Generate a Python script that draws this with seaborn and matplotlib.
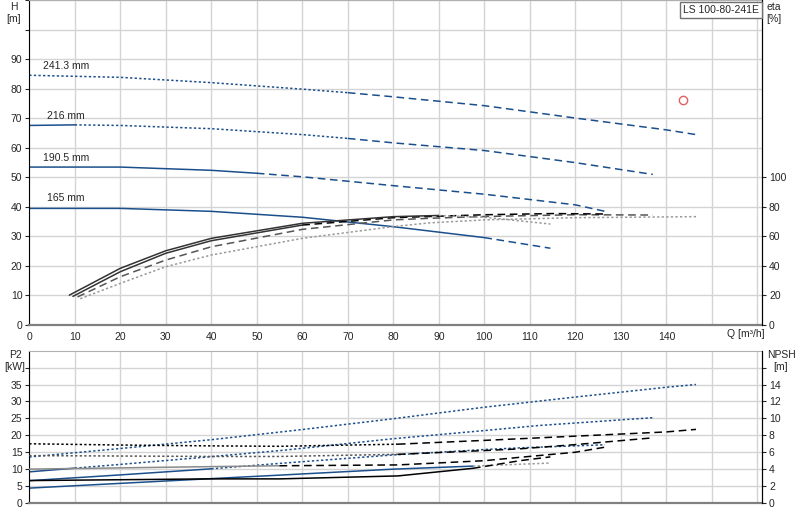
import matplotlib
matplotlib.use("Agg")
import matplotlib.pyplot as plt
import seaborn as sns

# H curves per impeller diameter
diameters = ["241.3 mm", "216 mm", "190.5 mm", "165 mm"]

q_h241 = [0, 20, 40, 60, 70, 80, 100, 120, 140, 146.5]
h_241 = [84.5, 83.8, 82.0, 79.8, 78.6, 77.2, 74.2, 70.0, 66.0, 64.4]
q_h216 = [0, 10, 20, 40, 60, 70, 80, 100, 120, 137]
h_216 = [67.5, 67.7, 67.5, 66.4, 64.4, 63.1, 61.6, 59.0, 54.9, 50.9]
q_h190 = [0, 20, 40, 50, 60, 80, 100, 120, 126.5]
h_190 = [53.4, 53.4, 52.3, 51.3, 50.1, 47.1, 44.2, 40.6, 38.4]
q_h165 = [0, 20, 40, 60, 80, 100, 114.5]
h_165 = [39.4, 39.4, 38.4, 36.4, 33.2, 29.5, 25.9]

# efficiency [%]
q_e241 = [11.2, 20, 30, 40, 60, 80, 88, 100, 120, 146.5]
eta_241 = [17.6, 28.0, 39.3, 47.2, 58.5, 66.5, 69.0, 71.0, 72.5, 73.2]
q_e216 = [10.6, 20, 30, 40, 60, 80, 88, 100, 120, 137]
eta_216 = [18.8, 32.5, 43.8, 52.8, 64.6, 71.0, 72.1, 73.3, 74.5, 74.3]
q_e190 = [9.6, 20, 30, 40, 60, 80, 100, 115, 126.5]
eta_190 = [19.2, 35.9, 48.4, 56.9, 67.5, 72.5, 74.5, 75.3, 75.0]
q_e165 = [8.8, 20, 30, 40, 60, 80, 90, 100, 114.5]
eta_165 = [20.0, 38.2, 50.1, 58.5, 68.7, 73.2, 74.0, 72.8, 68.2]

# P2 [kW]
q_p241 = [0, 20, 40, 60, 80, 100, 120, 140, 146.5]
p2_241 = [13.6, 16.1, 18.7, 21.7, 24.9, 28.3, 31.3, 34.2, 35.0]
q_p216 = [0, 10, 20, 40, 56, 80, 100, 112, 137]
p2_216 = [9.2, 10.3, 11.4, 13.7, 15.6, 19.0, 21.4, 22.9, 25.2]
q_p190 = [0, 20, 40, 55, 80, 100, 108, 126.5]
p2_190 = [6.6, 8.3, 10.1, 11.7, 14.2, 15.8, 16.3, 17.2]
q_p165 = [0, 20, 40, 56, 80, 97.5, 114.5]
p2_165 = [4.4, 5.8, 7.2, 8.3, 10.0, 10.9, 11.8]

# NPSH [m]
q_n241 = [0, 20, 40, 55, 81, 100, 120, 140, 146.5]
npsh_241 = [7.0, 6.85, 6.75, 6.7, 6.95, 7.4, 7.9, 8.4, 8.7]
q_n216 = [0, 20, 40, 55, 81, 100, 107.8, 120, 137]
npsh_216 = [5.6, 5.55, 5.5, 5.5, 5.75, 6.2, 6.4, 6.9, 7.7]
q_n190 = [0, 20, 40, 55, 81, 100, 107.8, 120, 126.5]
npsh_190 = [4.0, 4.15, 4.3, 4.4, 4.5, 5.0, 5.4, 6.0, 6.6]
q_n165 = [0, 20, 40, 55, 81, 97.5, 107.8, 114.5]
npsh_165 = [2.65, 2.75, 2.85, 2.85, 3.2, 4.1, 5.0, 5.45]

duty_q = [143.7]
duty_h = [76.1]

BLUE = "#1b4f8c"
GRAY = "#9a9a9a"
SOLID = "-"
DASH = (0, (5, 3))
DOT = (0, (1.5, 1.5))
FS = 7.5

sns.set_style("white")
plt.rcParams["font.family"] = ["Liberation Sans", "DejaVu Sans"]
plt.rcParams["font.size"] = FS


def draw(ax, q, v, parts):
    # parts: (start index, end index, color, linestyle)
    for i0, i1, col, ls in parts:
        sns.lineplot(x=q[i0:i1 + 1], y=v[i0:i1 + 1], ax=ax, color=col,
                     linestyle=ls, lw=1.1, estimator=None, sort=False)


def style_axes(ax):
    ax.grid(True, color="#d4d4d4", lw=1)
    ax.set_axisbelow(True)
    ax.spines["top"].set_color("#b0b0b0")
    ax.spines["bottom"].set_color("#808080")
    ax.spines["bottom"].set_linewidth(1.6)
    ax.spines["left"].set_color("black")
    ax.spines["right"].set_color("black")
    ax.tick_params(direction="out", length=3, width=0.8, pad=2, labelsize=FS)


def right_axis(ax):
    ax.tick_params(direction="out", length=3, width=0.8, pad=2, labelsize=FS)
    for s in ax.spines.values():
        s.set_visible(False)
    ax.spines["right"].set_visible(True)
    ax.spines["right"].set_color("black")


fig = plt.figure(figsize=(8, 5.2), dpi=100)
ax1 = fig.add_axes([0.0366, 0.3756, 0.9159, 0.6244])
ax2 = fig.add_axes([0.0366, 0.0327, 0.9159, 0.2929])

xt = list(range(0, 170, 10))
for ax in (ax1, ax2):
    ax.set_xlim(0, 161)
    ax.set_xticks(xt)
    style_axes(ax)
ax1.set_xticklabels([str(v) if v <= 140 else "" for v in xt])
ax2.set_xticklabels([])

# top: H
ax1.set_ylim(0, 110)
yt = list(range(0, 120, 10))
ax1.set_yticks(yt)
ax1.set_yticklabels([str(v) if v <= 90 else "" for v in yt])

draw(ax1, q_h241, h_241, [(0, 4, BLUE, DOT), (4, 9, BLUE, DASH)])
draw(ax1, q_h216, h_216, [(0, 1, BLUE, SOLID), (1, 5, BLUE, DOT), (5, 9, BLUE, DASH)])
draw(ax1, q_h190, h_190, [(0, 3, BLUE, SOLID), (3, 8, BLUE, DASH)])
draw(ax1, q_h165, h_165, [(0, 5, BLUE, SOLID), (5, 6, BLUE, DASH)])

label_q = [3.0, 3.9, 3.0, 3.9]
label_h = [87.5, 70.8, 56.6, 43.0]
for name, lq, lh in zip(diameters, label_q, label_h):
    ax1.text(lq, lh, name, fontsize=FS, va="center", ha="left")

ax1.plot(duty_q, duty_h, marker="o", mfc="none", mec="#e06060", ms=6, ls="none")

ax1e = ax1.twinx()
ax1e.set_ylim(0, 220)
ax1e.set_yticks(list(range(0, 120, 20)))
right_axis(ax1e)
draw(ax1e, q_e241, eta_241, [(0, 9, GRAY, DOT)])
draw(ax1e, q_e216, eta_216, [(0, 9, "#555555", DASH)])
draw(ax1e, q_e190, eta_190, [(0, 4, "#333333", SOLID), (4, 8, "black", DASH)])
draw(ax1e, q_e165, eta_165, [(0, 6, "#333333", SOLID), (6, 8, GRAY, DOT)])
ax1e.set_xlim(0, 161)

# bottom: P2 / NPSH
ax2.set_ylim(0, 45)
pt = list(range(0, 45, 5))
ax2.set_yticks(pt)
ax2.set_yticklabels([str(v) if v <= 35 else "" for v in pt])
draw(ax2, q_p241, p2_241, [(0, 8, BLUE, DOT)])
draw(ax2, q_p216, p2_216, [(0, 1, BLUE, SOLID), (1, 8, BLUE, DOT)])
draw(ax2, q_p190, p2_190, [(0, 2, BLUE, SOLID), (2, 7, BLUE, DOT)])
draw(ax2, q_p165, p2_165, [(0, 5, BLUE, SOLID), (5, 6, GRAY, DOT)])

ax2n = ax2.twinx()
ax2n.set_ylim(0, 18)
nt = list(range(0, 18, 2))
ax2n.set_yticks(nt)
ax2n.set_yticklabels([str(v) if v <= 14 else "" for v in nt])
right_axis(ax2n)
draw(ax2n, q_n241, npsh_241, [(0, 4, "black", DOT), (4, 8, "black", DASH)])
draw(ax2n, q_n216, npsh_216, [(0, 4, "#555555", DOT), (4, 8, "black", DASH)])
draw(ax2n, q_n190, npsh_190, [(0, 3, "#8a8a8a", SOLID), (3, 8, "black", DASH)])
draw(ax2n, q_n165, npsh_165, [(0, 5, "black", SOLID), (5, 7, "black", DASH)])
ax2n.set_xlim(0, 161)

for a in (ax1, ax1e, ax2, ax2n):
    a.set_xlabel("")
    a.set_ylabel("")

fig.text(14 / 800, 1 - 2 / 520, "H\n[m]", ha="center", va="top", fontsize=FS)
fig.text(774 / 800, 1 - 2 / 520, "eta\n[%]", ha="center", va="top", fontsize=FS)
fig.text(746 / 800, 1 - 334 / 520, "Q [m³/h]", ha="center", va="center", fontsize=FS)
fig.text(15 / 800, 1 - 350 / 520, "P2\n[kW]", ha="center", va="top", fontsize=FS)
fig.text(781 / 800, 1 - 350 / 520, "NPSH\n[m]", ha="center", va="top", fontsize=FS)
fig.text(721 / 800, 1 - 10 / 520, "LS 100-80-241E", ha="center", va="center", fontsize=FS,
         bbox=dict(boxstyle="square,pad=0.3", fc="white", ec="#707070", lw=1))

fig.savefig("out.png", dpi=100)
